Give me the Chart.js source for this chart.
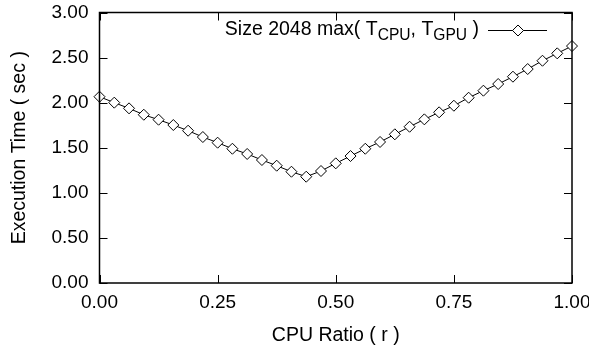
<!DOCTYPE html>
<html>
<head>
<meta charset="utf-8">
<script src="https://cdn.jsdelivr.net/npm/chart.js@4/dist/chart.umd.min.js"></script>
<style>
html,body{margin:0;padding:0;background:#fff;}
#wrap{width:589px;height:347px;position:relative;}
</style>
</head>
<body>
<div id="wrap"><canvas id="c" width="589" height="347"></canvas></div>
<script>
const cpuRatio = [0.00000, 0.03125, 0.06250, 0.09375, 0.12500, 0.15625, 0.18750, 0.21875,
  0.25000, 0.28125, 0.31250, 0.34375, 0.37500, 0.40625, 0.43750, 0.46875,
  0.50000, 0.53125, 0.56250, 0.59375, 0.62500, 0.65625, 0.68750, 0.71875,
  0.75000, 0.78125, 0.81250, 0.84375, 0.87500, 0.90625, 0.93750, 0.96875, 1.00000];
const execTime = [2.066, 2.000, 1.937, 1.866, 1.811, 1.752, 1.689, 1.619,
  1.556, 1.489, 1.431, 1.364, 1.301, 1.234, 1.179, 1.242,
  1.327, 1.408, 1.489, 1.564, 1.649, 1.733, 1.815, 1.893,
  1.966, 2.055, 2.133, 2.207, 2.288, 2.373, 2.465, 2.547, 2.628];
const xTickValues = [0, 0.25, 0.5, 0.75, 1.0];
const yTickValues = [0, 0.5, 1.0, 1.5, 2.0, 2.5, 3.0];
const seriesLabel = ['Size 2048 max( T', 'CPU', ', T', 'GPU', ' )'];

const FONT = '"Liberation Sans", Arial, Helvetica, sans-serif';
const FS = 19;
const FT = 19.5;

function zeroPad(s) { s.paddingTop = 0; s.paddingBottom = 0; s.paddingLeft = 0; s.paddingRight = 0; }

const framePlugin = {
  id: 'frame',
  afterDraw(chart) {
    const {ctx, chartArea: a, scales} = chart;
    ctx.save();
    ctx.strokeStyle = '#000';
    ctx.lineWidth = 1.5;
    ctx.strokeRect(a.left, a.top, a.right - a.left, a.bottom - a.top);
    ctx.lineWidth = 1;
    const L = 8;
    ctx.beginPath();
    xTickValues.forEach(v => {
      const px = Math.round(scales.x.getPixelForValue(v)) + 0.5;
      ctx.moveTo(px, a.bottom); ctx.lineTo(px, a.bottom - L);
      ctx.moveTo(px, a.top); ctx.lineTo(px, a.top + L);
    });
    yTickValues.forEach(v => {
      const py = Math.round(scales.y.getPixelForValue(v)) + 0.5;
      ctx.moveTo(a.left, py); ctx.lineTo(a.left + L, py);
      ctx.moveTo(a.right, py); ctx.lineTo(a.right - L, py);
    });
    ctx.stroke();

    // legend
    const yc = 30;
    const lineX0 = 488, lineX1 = 547;
    ctx.beginPath();
    ctx.moveTo(lineX0, yc + 0.5); ctx.lineTo(lineX1, yc + 0.5);
    ctx.stroke();
    const mx = 518, r = 5.5;
    ctx.beginPath();
    ctx.moveTo(mx, yc - r + 0.5); ctx.lineTo(mx + r, yc + 0.5); ctx.lineTo(mx, yc + r + 0.5); ctx.lineTo(mx - r, yc + 0.5); ctx.closePath();
    ctx.fillStyle = '#fff'; ctx.fill(); ctx.stroke();

    const big = FT + 'px ' + FONT, small = (FT * 0.8).toFixed(1) + 'px ' + FONT;
    const parts = seriesLabel.map((t, i) => ({t, sub: i % 2 === 1}));
    let total = 0;
    parts.forEach(p => { ctx.font = p.sub ? small : big; p.w = ctx.measureText(p.t).width; total += p.w; });
    let x = 479 - total;
    ctx.fillStyle = '#000';
    ctx.textBaseline = 'alphabetic';
    ctx.textAlign = 'left';
    const base = 34.5;
    parts.forEach(p => {
      ctx.font = p.sub ? small : big;
      ctx.fillText(p.t, x, p.sub ? base + 5 : base);
      x += p.w;
    });
    ctx.restore();
  }
};

new Chart(document.getElementById('c'), {
  type: 'line',
  data: {
    datasets: [{
      label: seriesLabel.join(''),
      data: cpuRatio.map((r, i) => ({x: r, y: execTime[i]})),
      borderColor: '#000',
      borderWidth: 1,
      pointStyle: 'rectRot',
      pointRadius: 5.5,
      pointBackgroundColor: '#fff',
      pointBorderColor: '#000',
      pointBorderWidth: 1,
      tension: 0,
      fill: false,
      clip: false
    }]
  },
  options: {
    responsive: false,
    animation: false,
    events: [],
    layout: {padding: {left: 0, top: 12.5, right: 17, bottom: 0}},
    plugins: {legend: {display: false}, tooltip: {enabled: false}},
    scales: {
      x: {
        type: 'linear', min: 0, max: 1,
        afterFit(s) { s.height = 64; zeroPad(s); },
        afterBuildTicks(s) { s.ticks = xTickValues.map(v => ({value: v})); },
        grid: {display: false, drawTicks: false},
        border: {display: false},
        ticks: {color: '#000', font: {family: FONT, size: FS}, padding: 8, maxRotation: 0,
          callback: v => Number(v).toFixed(2)},
        title: {display: true, text: 'CPU Ratio ( r )', color: '#000',
          font: {family: FONT, size: FT}, padding: {top: 0, bottom: 0}}
      },
      y: {
        type: 'linear', min: 0, max: 3,
        afterFit(s) { s.width = 99.5; zeroPad(s); },
        afterBuildTicks(s) { s.ticks = yTickValues.map(v => ({value: v})); },
        grid: {display: false, drawTicks: false},
        border: {display: false},
        ticks: {color: '#000', font: {family: FONT, size: FS}, padding: 11,
          callback: v => Number(v).toFixed(2)},
        title: {display: true, text: 'Execution Time ( sec )', color: '#000',
          font: {family: FONT, size: FT}, padding: {top: 8, bottom: 0}}
      }
    }
  },
  plugins: [framePlugin]
});
</script>
</body>
</html>
